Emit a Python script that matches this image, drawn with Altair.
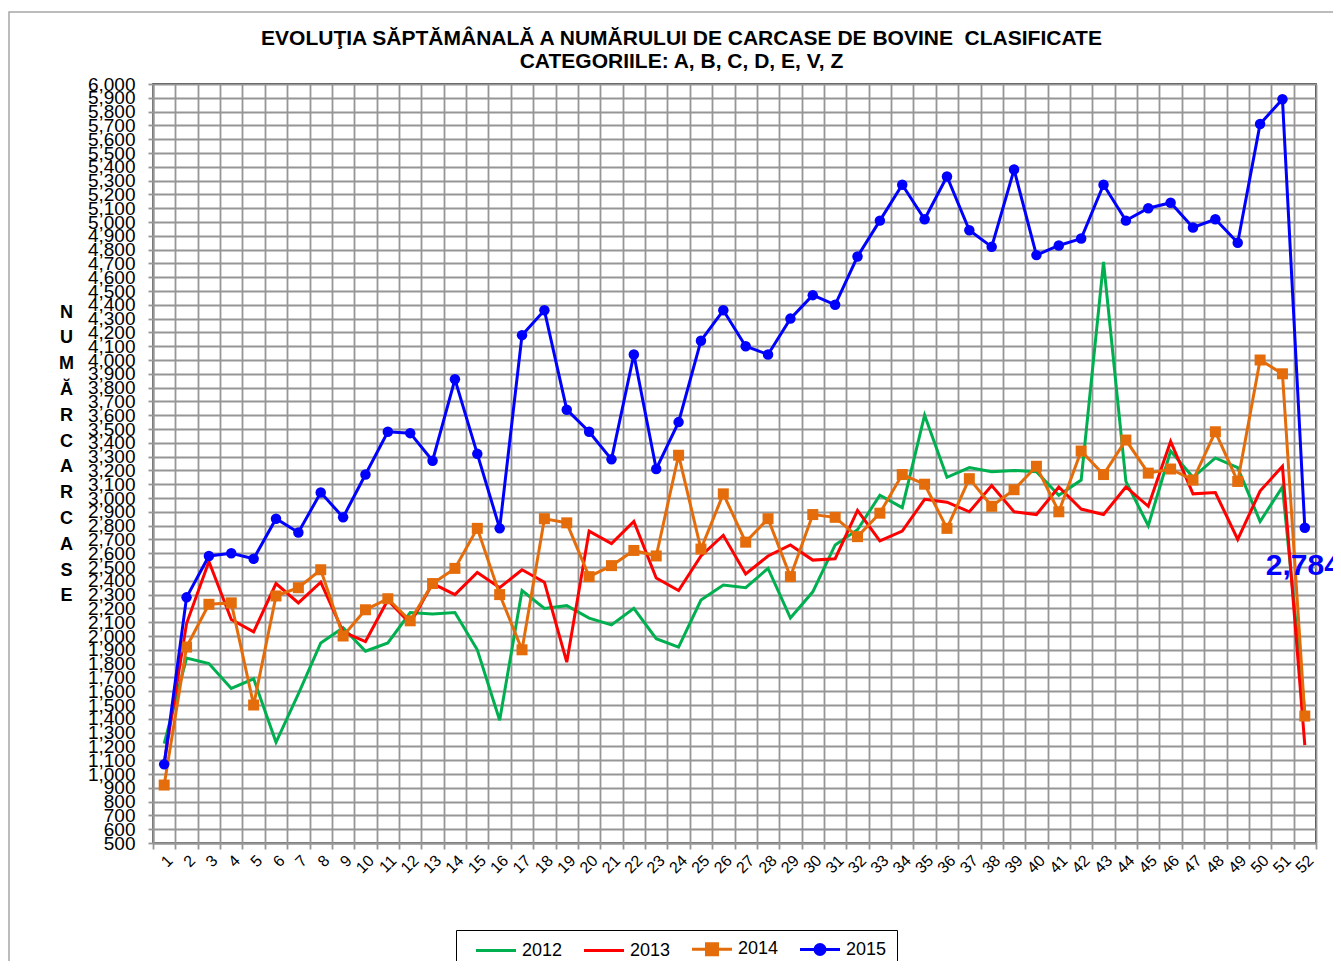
import altair as alt
import pandas as pd

FONT = "Liberation Sans"
GRID = "#969696"

weeks = list(range(1, 53))
years = ["2012", "2013", "2014", "2015"]
colors = ["#00B050", "#FF0000", "#E46C0A", "#0000FF"]

y2012 = [1220, 1840, 1800, 1620, 1690, 1230, 1580, 1950, 2060, 1890,
         1950, 2170, 2160, 2170, 1900, 1390, 2330, 2200, 2220, 2130,
         2080, 2200, 1980, 1920, 2260, 2370, 2350, 2490, 2130, 2320,
         2660, 2770, 3020, 2930, 3600, 3150, 3220, 3190, 3200, 3190,
         3020, 3130, 4710, 3120, 2800, 3340, 3150, 3290, 3220, 2830,
         3080, 1450]
y2013 = [1080, 2090, 2540, 2120, 2030, 2380, 2240, 2390, 2030, 1960,
         2260, 2090, 2380, 2300, 2460, 2350, 2480, 2390, 1810, 2760,
         2670, 2830, 2420, 2330, 2580, 2730, 2450, 2580, 2660, 2550,
         2560, 2910, 2690, 2760, 2990, 2970, 2900, 3090, 2900, 2880,
         3080, 2920, 2880, 3080, 2940, 3410, 3030, 3040, 2700, 3050,
         3230, 1210]
y2014 = [920, 1920, 2230, 2240, 1500, 2290, 2350, 2480, 2000, 2190,
         2270, 2110, 2380, 2490, 2780, 2300, 1900, 2850, 2820, 2430,
         2510, 2620, 2580, 3310, 2630, 3030, 2680, 2850, 2430, 2880,
         2860, 2720, 2890, 3170, 3100, 2780, 3140, 2940, 3060, 3230,
         2900, 3340, 3170, 3420, 3180, 3210, 3130, 3480, 3120, 4000,
         3900, 1420]
y2015 = [1070, 2280, 2580, 2600, 2560, 2850, 2750, 3040, 2860, 3170,
         3480, 3470, 3270, 3860, 3320, 2780, 4180, 4360, 3640, 3480,
         3280, 4040, 3210, 3550, 4140, 4360, 4100, 4040, 4300, 4470,
         4400, 4750, 5010, 5270, 5020, 5330, 4940, 4820, 5380, 4760,
         4830, 4880, 5270, 5010, 5100, 5140, 4960, 5020, 4850, 5710,
         5890, 2784]

y_ticks = list(range(500, 6001, 100))
title_lines = [
    "EVOLUŢIA SĂPTĂMÂNALĂ A NUMĂRULUI DE CARCASE DE BOVINE \u00a0CLASIFICATE",
    "CATEGORIILE: A, B, C, D, E, V, Z",
]
y_title = ["N", "U", "M", "Ă", "R", "\u00a0", "C", "A", "R", "C", "A", "S", "E"]
legend_paths = [
    "M-4,0H4",
    "M-4,0H4",
    "M-4,0H4M-1.1,-1.1H1.1V1.1H-1.1Z",
    "M-4,0H4M-1,0A1,1,0,1,1,1,0A1,1,0,1,1,-1,0Z",
]

rows = []
for yr, vals in zip(years, [y2012, y2013, y2014, y2015]):
    for w, v in zip(weeks, vals):
        rows.append({"week": w, "year": yr, "value": v})
df = pd.DataFrame(rows)
legend_df = pd.DataFrame({"year": years})

color_scale = alt.Scale(domain=years, range=colors)

x_enc = alt.X(
    "week:O",
    bandPosition=0.5,
    scale=alt.Scale(type="band", paddingInner=0, paddingOuter=0, domain=weeks),
    axis=alt.Axis(
        title=None, labelAngle=-45, labelFontSize=16, labelFont=FONT,
        labelColor="black", tickBand="extent", grid=True, gridColor=GRID,
        gridWidth=1.8, tickColor=GRID, tickSize=6, tickWidth=1.8,
        domainColor=GRID, domainWidth=2, labelPadding=3,
    ),
)
y_enc = alt.Y(
    "value:Q",
    scale=alt.Scale(domain=[500, 6000], nice=False, zero=False),
    axis=alt.Axis(
        values=y_ticks, format=",d", labelFontSize=19, labelFont=FONT,
        labelColor="black", labelOverlap=False, labelFlush=False,
        labelPadding=13, tickSize=5, tickColor=GRID, tickWidth=1.8,
        grid=True, gridColor=GRID, gridWidth=1.8,
        domainColor=GRID, domainWidth=2,
        title=y_title, titleAngle=0, titleFontSize=18, titleFontWeight="bold",
        titleFont=FONT, titleColor="black", titleLineHeight=25.8,
        titleX=-87, titleY=228, titleAlign="center", titleBaseline="middle",
    ),
)

base = alt.Chart(df)

frame = alt.Chart(pd.DataFrame({"k": [0]})).mark_rect(
    fill="white", fillOpacity=0, stroke="#A6A6A6", strokeWidth=1.5
).encode(x=alt.value(-144), x2=alt.value(1400), y=alt.value(-72), y2=alt.value(1100))

lines_a = base.transform_filter(
    (alt.datum.year == "2012") | (alt.datum.year == "2013")
).mark_line(strokeWidth=3).encode(
    x=x_enc, y=y_enc, color=alt.Color("year:N", scale=color_scale, legend=None),
    detail="year:N",
)
line_2014 = base.transform_filter(alt.datum.year == "2014").mark_line(strokeWidth=3).encode(
    x=x_enc, y=y_enc, color=alt.Color("year:N", scale=color_scale, legend=None)
)
sq_2014 = base.transform_filter(alt.datum.year == "2014").mark_square(size=121, opacity=1).encode(
    x=x_enc, y=y_enc, color=alt.Color("year:N", scale=color_scale, legend=None)
)
line_2015 = base.transform_filter(alt.datum.year == "2015").mark_line(strokeWidth=3).encode(
    x=x_enc, y=y_enc, color=alt.Color("year:N", scale=color_scale, legend=None)
)
ci_2015 = base.transform_filter(alt.datum.year == "2015").mark_circle(size=110, opacity=1).encode(
    x=x_enc, y=y_enc, color=alt.Color("year:N", scale=color_scale, legend=None)
)
label = base.transform_filter(
    (alt.datum.year == "2015") & (alt.datum.week == 52)
).mark_text(
    fontSize=30, fontWeight="bold", font=FONT, color="#0000FF",
    align="left", baseline="alphabetic", dx=-39, dy=47,
).encode(x=x_enc, y=y_enc, text=alt.Text("value:Q", format=",d"))

leg = alt.Legend(
    title=None, orient="none", legendX=303, legendY=846, direction="horizontal",
    columns=4, symbolSize=100, symbolStrokeWidth=3, symbolOffset=21,
    labelOffset=17, columnPadding=11, padding=10, strokeColor="black",
    labelFontSize=18, labelFont=FONT, labelColor="black", symbolOpacity=1,
)
legend_layer = alt.Chart(legend_df).mark_point(filled=True, size=100, opacity=0).encode(
    fill=alt.Fill("year:N", scale=alt.Scale(domain=years, range=colors), legend=leg),
    stroke=alt.Stroke("year:N", scale=alt.Scale(domain=years, range=colors), legend=leg),
    shape=alt.Shape("year:N", scale=alt.Scale(domain=years, range=legend_paths), legend=leg),
)

chart = alt.layer(
    frame, lines_a, line_2014, sq_2014, line_2015, ci_2015, label, legend_layer
).resolve_legend(fill="independent", stroke="independent", shape="independent").properties(
    width=1163,
    height=759,
    autosize=alt.AutoSizeParams(type="none"),
    padding={"left": 145, "top": 76, "right": 17, "bottom": 118},
    title=alt.TitleParams(
        text=title_lines, fontSize=21, fontWeight="bold", font=FONT, color="black",
        anchor="middle", dx=-53, dy=76, offset=15, lineHeight=23,
    ),
).configure_view(fill="#F2F2F2", stroke="#000000", strokeWidth=1.5)

chart.save("out.html", embed_options={"renderer": "svg", "actions": False})
